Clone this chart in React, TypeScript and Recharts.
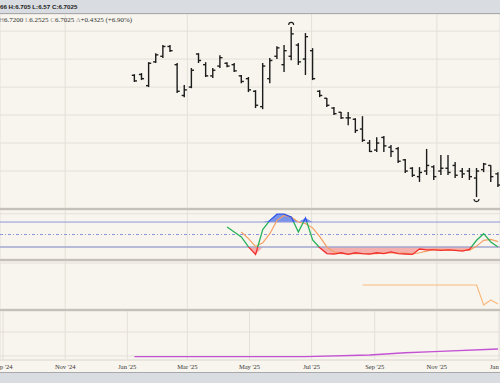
import { ComposedChart, Bar, Line, Area, XAxis, YAxis, CartesianGrid, ReferenceLine } from "recharts"

const DAY = 86400000
const FIRST_WEEK = Date.UTC(2025, 0, 8)
const X_DOMAIN = [Date.UTC(2024, 7, 29), Date.UTC(2026, 0, 2)]
const MONTH_TICKS = [
  Date.UTC(2024, 8, 1), Date.UTC(2024, 10, 1), Date.UTC(2025, 0, 1), Date.UTC(2025, 2, 1),
  Date.UTC(2025, 4, 1), Date.UTC(2025, 6, 1), Date.UTC(2025, 8, 1), Date.UTC(2025, 10, 1),
  Date.UTC(2026, 0, 1),
]
const MONTHS = ["Jan", "Feb", "Mar", "Apr", "May", "Jun", "Jul", "Aug", "Sep", "Oct", "Nov", "Dec"]

// weekly bars
const HIGH = [10.46, 10.5, 10.89, 11.21, 11.5, 11.5, 10.86, 10.07, 10.68, 11.21, 10.89, 10.68, 11.14,
  10.89, 10.86, 10.43, 10.36, 9.89, 10.86, 11.04, 11.46, 11.5, 12.15, 11.57, 11.93, 11.39, 9.89,
  9.61, 9.29, 9.11, 9.11, 8.89, 8.96, 8.11, 8.21, 8.25, 7.93, 7.86, 7.43, 7.14, 7.14, 7.79, 7.21,
  7.57, 7.57, 7.32, 7.11, 7.11, 7.11, 7.29, 7.21, 6.96]
const LOW = [10.18, 10.25, 10.0, 10.86, 11.04, 11.25, 9.79, 9.64, 9.96, 10.86, 10.36, 10.32, 10.68,
  10.71, 10.54, 10.14, 9.82, 9.25, 9.21, 10.14, 11.0, 10.54, 10.96, 10.79, 10.43, 10.25, 9.64,
  9.29, 9.0, 8.86, 8.64, 8.36, 8.04, 7.68, 7.68, 7.68, 7.5, 7.29, 6.93, 6.79, 6.61, 6.86, 6.68,
  6.86, 6.86, 6.75, 6.75, 6.68, 6.07, 6.96, 6.61, 6.43]
const OPEN = [10.42, 10.45, 10.05, 10.9, 11.1, 11.45, 10.8, 9.7, 10.0, 11.18, 10.8, 10.4, 10.75,
  10.85, 10.8, 10.4, 10.3, 9.85, 9.3, 10.3, 11.1, 10.8, 11.1, 11.5, 11.0, 11.3, 9.85,
  9.6, 9.25, 9.1, 8.9, 8.85, 8.5, 8.0, 7.75, 8.2, 7.85, 7.8, 7.4, 7.1, 6.8, 7.0, 7.15,
  7.0, 7.1, 7.2, 7.0, 7.0, 6.75, 7.05, 7.2, 6.9]
const CLOSE = [10.22, 10.3, 10.85, 11.15, 11.45, 11.3, 9.85, 9.9, 10.6, 10.95, 10.4, 10.6, 11.05,
  10.75, 10.58, 10.2, 9.9, 9.35, 10.75, 10.95, 11.4, 11.3, 11.9, 10.9, 11.8, 10.3, 9.7,
  9.35, 9.05, 8.9, 8.9, 8.45, 8.1, 7.7, 8.0, 7.9, 7.7, 7.35, 7.0, 6.85, 6.95, 7.2, 6.8,
  7.1, 6.95, 6.85, 6.9, 6.8, 7.0, 7.25, 6.8, 6.5]
const SWING_HIGHS = [22]
const SWING_LOWS = [48]
const PRICE_TICKS = [6, 7, 8, 9, 10, 11, 12]

// stochastics
const K_START = 13
const STOCH_K = [68, 56, 44, 20, 2, 62, 84, 99, 99, 92, 56, 90, 37, 18, 4, 3, 6, 2, 6, 4, 3, 6, 4,
  8, 4, 3, 2, 15, 13, 13, 12, 13, 12, 10, 14, 36, 52, 32, 20]
const D_START = 15
const STOCH_D = [56, 40, 21, 30, 52, 84, 96, 92, 80, 76, 66, 45, 20, 8, 4, 4, 4, 4, 4, 4, 5, 6, 5,
  5, 3, 6, 10, 14, 13, 13, 12, 12, 12, 22, 36, 38, 33]

// third panel
const P3_START = 32
const P3_VALUES = [38, 38, 38, 38, 38, 38, 38, 38, 38, 38, 38, 38, 38, 38, 38, 38, 38, 18, 23, 19]

// bottom panel
const P4_WEEKS = [0, 24, 33, 38, 42, 51]
const P4_VALUES = [97, 97, 104, 113, 118, 129]

const BG = "#f8f5ee"
const GRID = "#e3e0d8"
const SEP = "#c4c1bb"

const weekTime = (i: number) => FIRST_WEEK + i * 7 * DAY

const bars = OPEN.map((o, i) => ({
  t: weekTime(i), open: o, high: HIGH[i], low: LOW[i], close: CLOSE[i],
  swing: SWING_HIGHS.includes(i) ? "high" : SWING_LOWS.includes(i) ? "low" : null,
}))

const stochData = bars.map((b, i) => {
  const k = i >= K_START ? STOCH_K[i - K_START] : null
  const d = i >= D_START ? STOCH_D[i - D_START] : null
  return {
    t: b.t, k, d,
    over: k == null ? null : [80, Math.max(k, 80)],
    under: k == null ? null : [Math.min(k, 20), 20],
  }
})

const p3Data = P3_VALUES.map((v, i) => ({ t: weekTime(P3_START + i), v }))
const p4Data = P4_WEEKS.map((w, i) => ({ t: weekTime(w), v: P4_VALUES[i] }))

const kMax = Math.max(...STOCH_K)
const kMin = Math.min(...STOCH_K)
const off80 = (kMax - 80) / (kMax - kMin)
const off20 = (kMax - 20) / (kMax - kMin)

function fmtMonth(t: number) {
  const d = new Date(t)
  return `${MONTHS[d.getUTCMonth()]} '${String(d.getUTCFullYear()).slice(2)}`
}

function OhlcShape(props: any) {
  const { x, y, width, height, payload } = props
  if (x == null || y == null) return null
  const cx = x + width / 2
  const top = Math.min(y, y + height)
  const h = Math.abs(height)
  const range = payload.high - payload.low || 1
  const pos = (v: number) => top + ((payload.high - v) / range) * h
  const yo = pos(payload.open)
  const yc = pos(payload.close)
  return (
    <g stroke="#1c1c1c" strokeWidth={1.4} fill="none">
      <line x1={cx} x2={cx} y1={top} y2={top + h} />
      <line x1={cx - 2.6} x2={cx} y1={yo} y2={yo} />
      <line x1={cx} x2={cx + 2.6} y1={yc} y2={yc} />
      {payload.swing === "high" && (
        <path d={`M${cx - 2.5},${top - 2} A2.5,2.5 0 0 1 ${cx + 2.5},${top - 2}`} strokeWidth={1.1} />
      )}
      {payload.swing === "low" && (
        <path d={`M${cx - 2.5},${top + h + 2} A2.5,2.5 0 0 0 ${cx + 2.5},${top + h + 2}`} strokeWidth={1.1} />
      )}
    </g>
  )
}

const hiddenX = (
  <XAxis type="number" dataKey="t" domain={X_DOMAIN} ticks={MONTH_TICKS} allowDataOverflow hide />
)
const noMargin = { top: 0, right: 0, bottom: 0, left: 0 }

export default function App() {
  return (
    <div style={{ position: "absolute", left: 0, top: 0, width: 500, height: 383, background: BG, overflow: "hidden" }}>
      <div style={{
        position: "absolute", left: 0, top: 0, width: 500, height: 14, background: "#d9dce0",
        borderBottom: "1px solid #a8a9ac", font: "bold 6.2px 'Liberation Sans', Arial, sans-serif",
        color: "#222", lineHeight: "13px", paddingLeft: 0, boxSizing: "border-box",
      }}>
        66 H:6.705 L:6.57 C:6.7025
      </div>

      <div style={{ position: "absolute", left: 0, top: 14 }}>
        <ComposedChart width={500} height={194} data={bars} margin={noMargin}>
          <CartesianGrid stroke={GRID} />
          {hiddenX}
          <YAxis hide domain={[5.68, 12.61]} ticks={PRICE_TICKS} allowDataOverflow />
          <Bar dataKey={(d: any) => [d.low, d.high]} barSize={5} shape={<OhlcShape />} isAnimationActive={false} />
        </ComposedChart>
      </div>
      <div style={{
        position: "absolute", left: -1, top: 16, font: "7px 'Liberation Serif', 'Times New Roman', serif",
        color: "#333", whiteSpace: "nowrap",
      }}>
        <span style={{ color: "#999" }}>H</span>6.7200 <span style={{ color: "#999" }}>L</span>6.2525{" "}
        <span style={{ color: "#999" }}>C</span>6.7025 <span style={{ color: "#999" }}>Δ</span>+0.4325 (+6.90%)
      </div>

      <div style={{ position: "absolute", left: 0, top: 210 }}>
        <ComposedChart width={500} height={49} data={stochData} margin={noMargin}>
          <defs>
            <linearGradient id="kStroke" x1="0" y1="0" x2="0" y2="1">
              <stop offset={0} stopColor="#2f55e6" />
              <stop offset={off80} stopColor="#2f55e6" />
              <stop offset={off80} stopColor="#27b05a" />
              <stop offset={off20} stopColor="#27b05a" />
              <stop offset={off20} stopColor="#f22f2f" />
              <stop offset={1} stopColor="#f22f2f" />
            </linearGradient>
          </defs>
          <CartesianGrid stroke={GRID} />
          {hiddenX}
          <YAxis hide domain={[-9, 109]} ticks={[0, 100]} allowDataOverflow />
          <ReferenceLine y={80} stroke="#8e96dc" strokeWidth={1} />
          <ReferenceLine y={50} stroke="#8e96dc" strokeWidth={1} strokeDasharray="3 2 1 2" />
          <ReferenceLine y={20} stroke="#a3a7cf" strokeWidth={1.5} />
          <Area dataKey="over" stroke="none" fill="#5273ea" fillOpacity={0.75} isAnimationActive={false} />
          <Area dataKey="under" stroke="none" fill="#f26a6a" fillOpacity={0.5} isAnimationActive={false} />
          <Line dataKey="d" stroke="#f4a064" strokeWidth={1.2} dot={false} isAnimationActive={false} />
          <Line dataKey="k" stroke="url(#kStroke)" strokeWidth={1.3} dot={false} isAnimationActive={false} />
        </ComposedChart>
      </div>

      <div style={{ position: "absolute", left: 0, top: 261 }}>
        <ComposedChart width={500} height={48} data={p3Data} margin={noMargin}>
          <CartesianGrid stroke={GRID} />
          {hiddenX}
          <YAxis hide domain={[14, 62]} ticks={[20, 40, 60]} allowDataOverflow />
          <Line dataKey="v" stroke="#f9bb80" strokeWidth={1.2} dot={false} isAnimationActive={false} />
        </ComposedChart>
      </div>

      <div style={{ position: "absolute", left: 0, top: 311 }}>
        <ComposedChart width={500} height={62} data={p4Data} margin={noMargin}>
          <CartesianGrid stroke={GRID} />
          <XAxis
            type="number" dataKey="t" domain={X_DOMAIN} ticks={MONTH_TICKS} allowDataOverflow interval={0}
            tickFormatter={fmtMonth} tickLine={false} tickSize={0} tickMargin={4} height={13}
            axisLine={{ stroke: GRID }}
            tick={{ fontSize: 6.5, fill: "#333", fontFamily: "'Liberation Serif', serif" }}
          />
          <YAxis hide domain={[83, 287.5]} ticks={[100, 200]} allowDataOverflow />
          <Line dataKey="v" stroke="#c452d4" strokeWidth={1.4} dot={false} isAnimationActive={false} />
        </ComposedChart>
      </div>

      <div style={{ position: "absolute", left: 0, top: 208, width: 500, height: 2, background: SEP }} />
      <div style={{ position: "absolute", left: 0, top: 259, width: 500, height: 2, background: SEP }} />
      <div style={{ position: "absolute", left: 0, top: 309, width: 500, height: 2, background: SEP }} />

      <div style={{
        position: "absolute", left: 0, top: 372, width: 500, height: 11, background: "#d9dce0",
        borderTop: "1px solid #a8a9ac", boxSizing: "border-box",
      }} />
    </div>
  )
}
